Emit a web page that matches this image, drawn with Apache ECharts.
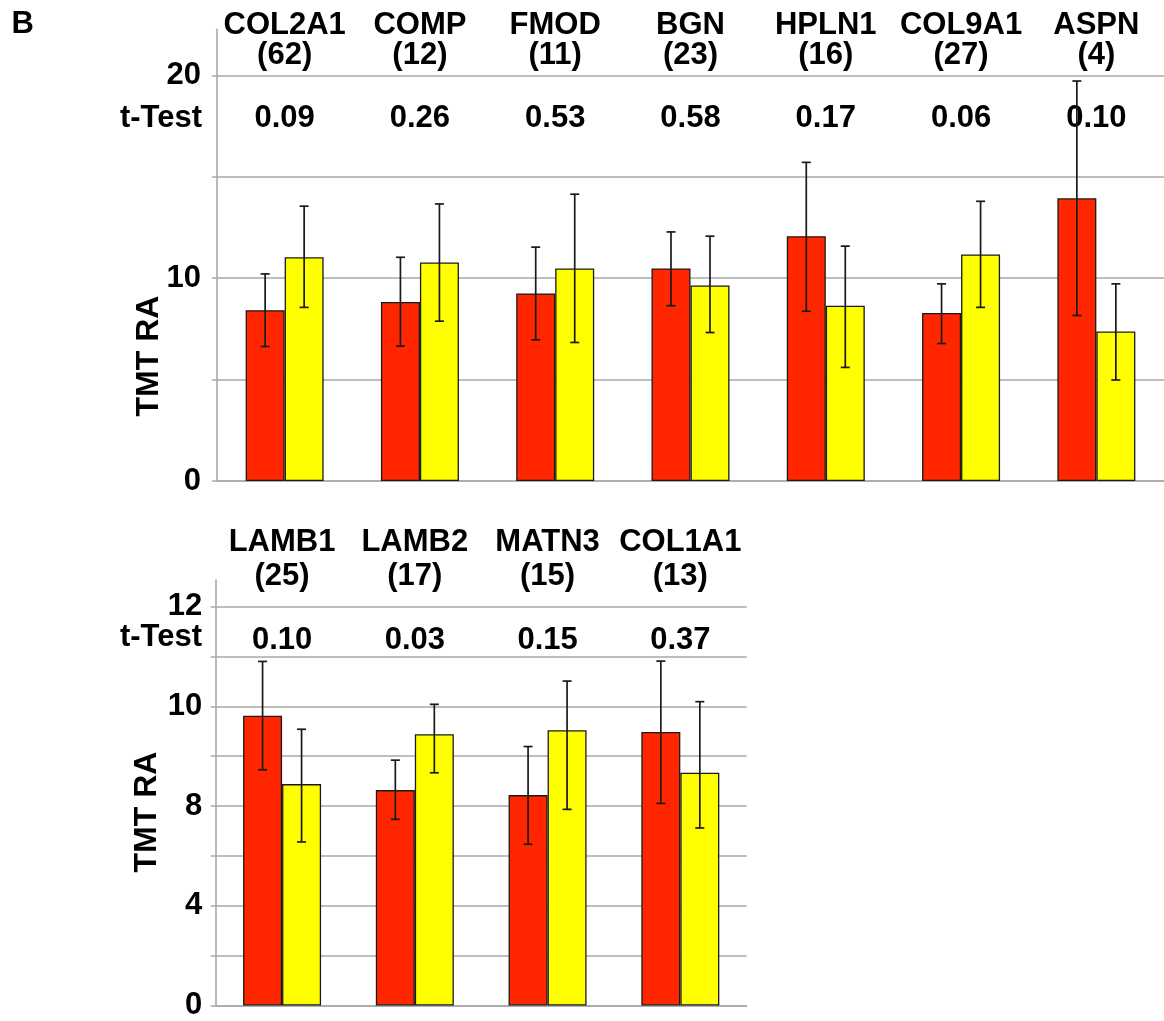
<!DOCTYPE html>
<html>
<head>
<meta charset="utf-8">
<style>
  html, body { margin: 0; padding: 0; background: #ffffff; }
  #chart { width: 1164px; height: 1021px; }
</style>
<script src="https://cdn.jsdelivr.net/npm/echarts@6/dist/echarts.min.js"></script>
</head>
<body>
<div id="chart"></div>
<script>
// ---------- Data ----------
// Top panel
const topGenes   = ['COL2A1', 'COMP', 'FMOD', 'BGN', 'HPLN1', 'COL9A1', 'ASPN'];
const topCounts  = [62, 12, 11, 23, 16, 27, 4];
const topTTest   = ['0.09', '0.26', '0.53', '0.58', '0.17', '0.06', '0.10'];
const topRed       = [8.42, 8.83, 9.25, 10.48, 12.07, 8.28, 13.94];
const topRedHigh   = [10.21, 11.03, 11.53, 12.28, 15.71, 9.72, 19.72];
const topRedLow    = [6.63, 6.65, 6.96, 8.64, 8.37, 6.78, 8.16];
const topYellow     = [11.03, 10.77, 10.48, 9.64, 8.64, 11.17, 7.37];
const topYellowHigh = [13.55, 13.66, 14.14, 12.07, 11.58, 13.79, 9.72];
const topYellowLow  = [8.56, 7.88, 6.83, 7.32, 5.60, 8.56, 4.98];
const topTickValues  = [0, 5, 10, 15, 20];
const topLabelValues = [0, 10, 20];
const topTickLabels  = ['0', '10', '20'];

// Bottom panel
const botGenes   = ['LAMB1', 'LAMB2', 'MATN3', 'COL1A1'];
const botCounts  = [25, 17, 15, 13];
const botTTest   = ['0.10', '0.03', '0.15', '0.37'];
const botRed       = [8.72, 6.48, 6.33, 8.23];
const botRedHigh   = [10.35, 7.38, 7.79, 10.36];
const botRedLow    = [7.09, 5.60, 4.85, 6.08];
const botYellow     = [6.66, 8.16, 8.28, 7.00];
const botYellowHigh = [8.31, 9.06, 9.76, 9.14];
const botYellowLow  = [4.92, 7.00, 5.90, 5.34];
const botTickValues  = [0, 1.5, 3, 4.5, 6, 7.5, 9, 10.5, 12];
const botLabelValues = [0, 3, 6, 9, 12];
const botTickLabels  = ['0', '4', '8', '10', '12'];

// ---------- Styling ----------
const FONT = '"Liberation Sans", Arial, Helvetica, sans-serif';
const GRID_GRAY = '#a9a9a9';
const RED = '#FF2600';
const YELLOW = '#FFFF00';
const BAR_W = 39;
const FS = 31;

function errData(high, low) {
  return high.map((h, i) => [i, h, low[i]]);
}
function errRender(side) {
  return function (params, api) {
    const idx = api.value(0);
    const top = api.coord([idx, api.value(1)]);
    const bot = api.coord([idx, api.value(2)]);
    const x = top[0] + side * BAR_W / 2;
    const cap = 4.5;
    const st = { stroke: '#1a1a1a', lineWidth: 1.7 };
    return {
      type: 'group',
      children: [
        { type: 'line', shape: { x1: x, y1: top[1], x2: x, y2: bot[1] }, style: st },
        { type: 'line', shape: { x1: x - cap, y1: top[1], x2: x + cap, y2: top[1] }, style: st },
        { type: 'line', shape: { x1: x - cap, y1: bot[1], x2: x + cap, y2: bot[1] }, style: st }
      ]
    };
  };
}
function labelFrom(values, labels) {
  return function (v) {
    for (let i = 0; i < values.length; i++) {
      if (Math.abs(values[i] - v) < 1e-6) return labels[i];
    }
    return '';
  };
}

const txt = { fontFamily: FONT, fontWeight: 'bold', color: '#000' };

const option = {
  animation: false,
  backgroundColor: '#ffffff',
  grid: [
    { left: 217, right: -4, top: 29.3, bottom: 540 },
    { left: 215.7, right: 417.3, top: 580, bottom: 14.3 }
  ],
  xAxis: [
    // top panel
    { type: 'category', gridIndex: 0, data: topGenes, position: 'bottom',
      axisLine: { show: true, lineStyle: { color: GRID_GRAY, width: 1.6 } },
      axisTick: { show: false }, axisLabel: { show: false }, splitLine: { show: false } },
    { type: 'category', gridIndex: 0, data: topGenes, position: 'top',
      axisLine: { show: false }, axisTick: { show: false }, splitLine: { show: false },
      axisLabel: Object.assign({}, txt, { interval: 0, fontSize: FS, lineHeight: 29.4, margin: -40.4,
        formatter: (v, i) => topGenes[i] + '\n(' + topCounts[i] + ')' }) },
    { type: 'category', gridIndex: 0, data: topGenes, position: 'top',
      axisLine: { show: false }, axisTick: { show: false }, splitLine: { show: false },
      axisLabel: Object.assign({}, txt, { interval: 0, inside: true, fontSize: FS, lineHeight: 29, margin: 74.5,
        formatter: (v, i) => topTTest[i] }) },
    // bottom panel
    { type: 'category', gridIndex: 1, data: botGenes, position: 'bottom',
      axisLine: { show: true, lineStyle: { color: GRID_GRAY, width: 1.6 } },
      axisTick: { show: false }, axisLabel: { show: false }, splitLine: { show: false } },
    { type: 'category', gridIndex: 1, data: botGenes, position: 'top',
      axisLine: { show: false }, axisTick: { show: false }, splitLine: { show: false },
      axisLabel: Object.assign({}, txt, { interval: 0, fontSize: FS, lineHeight: 34.7, margin: -14.3,
        formatter: (v, i) => botGenes[i] + '\n(' + botCounts[i] + ')' }) },
    { type: 'category', gridIndex: 1, data: botGenes, position: 'top',
      axisLine: { show: false }, axisTick: { show: false }, splitLine: { show: false },
      axisLabel: Object.assign({}, txt, { interval: 0, inside: true, fontSize: FS, lineHeight: 29, margin: 45.5,
        formatter: (v, i) => botTTest[i] }) }
  ],
  yAxis: [
    { type: 'value', gridIndex: 0, min: 0, max: 22.27, interval: 5,
      axisLine: { show: true, lineStyle: { color: GRID_GRAY, width: 1.6 } },
      axisTick: { show: true, length: 5, customValues: topTickValues, lineStyle: { color: GRID_GRAY, width: 1.5 } },
      splitLine: { show: true, lineStyle: { color: GRID_GRAY, width: 1.5 } },
      axisLabel: Object.assign({}, txt, { fontSize: FS, margin: 16, customValues: topLabelValues,
        formatter: labelFrom(topLabelValues, topTickLabels) }) },
    { type: 'value', gridIndex: 1, min: 0, max: 12.8, interval: 1.5,
      axisLine: { show: true, lineStyle: { color: GRID_GRAY, width: 1.6 } },
      axisTick: { show: true, length: 5, customValues: botTickValues, lineStyle: { color: GRID_GRAY, width: 1.5 } },
      splitLine: { show: true, lineStyle: { color: GRID_GRAY, width: 1.5 } },
      axisLabel: Object.assign({}, txt, { fontSize: FS, margin: 13.5, customValues: botLabelValues,
        formatter: labelFrom(botLabelValues, botTickLabels) }) }
  ],
  series: [
    { type: 'bar', xAxisIndex: 0, yAxisIndex: 0, data: topRed, barWidth: BAR_W, barGap: '0%',
      itemStyle: { color: RED, borderColor: '#1a1a1a', borderWidth: 1.3 } },
    { type: 'bar', xAxisIndex: 0, yAxisIndex: 0, data: topYellow, barWidth: BAR_W, barGap: '0%',
      itemStyle: { color: YELLOW, borderColor: '#1a1a1a', borderWidth: 1.3 } },
    { type: 'custom', xAxisIndex: 0, yAxisIndex: 0, z: 5, renderItem: errRender(-1),
      encode: { x: 0, y: [1, 2] }, data: errData(topRedHigh, topRedLow) },
    { type: 'custom', xAxisIndex: 0, yAxisIndex: 0, z: 5, renderItem: errRender(1),
      encode: { x: 0, y: [1, 2] }, data: errData(topYellowHigh, topYellowLow) },

    { type: 'bar', xAxisIndex: 3, yAxisIndex: 1, data: botRed, barWidth: BAR_W, barGap: '0%',
      itemStyle: { color: RED, borderColor: '#1a1a1a', borderWidth: 1.3 } },
    { type: 'bar', xAxisIndex: 3, yAxisIndex: 1, data: botYellow, barWidth: BAR_W, barGap: '0%',
      itemStyle: { color: YELLOW, borderColor: '#1a1a1a', borderWidth: 1.3 } },
    { type: 'custom', xAxisIndex: 3, yAxisIndex: 1, z: 5, renderItem: errRender(-1),
      encode: { x: 0, y: [1, 2] }, data: errData(botRedHigh, botRedLow) },
    { type: 'custom', xAxisIndex: 3, yAxisIndex: 1, z: 5, renderItem: errRender(1),
      encode: { x: 0, y: [1, 2] }, data: errData(botYellowHigh, botYellowLow) }
  ],
  graphic: [
    { type: 'text', x: 22.7, y: 24.5, style: { text: 'B', font: 'bold 31px ' + FONT, fill: '#000',
      align: 'center', verticalAlign: 'middle', textAlign: 'center', textVerticalAlign: 'middle' } },
    { type: 'text', x: 202, y: 118.3, style: { text: 't-Test', font: 'bold 31px ' + FONT, fill: '#000',
      align: 'right', verticalAlign: 'middle', textAlign: 'right', textVerticalAlign: 'middle' } },
    { type: 'text', x: 202, y: 637, style: { text: 't-Test', font: 'bold 31px ' + FONT, fill: '#000',
      align: 'right', verticalAlign: 'middle', textAlign: 'right', textVerticalAlign: 'middle' } },
    { type: 'text', x: 149, y: 356, rotation: Math.PI / 2, style: { text: 'TMT RA', font: 'bold 32px ' + FONT, fill: '#000',
      align: 'center', verticalAlign: 'middle', textAlign: 'center', textVerticalAlign: 'middle' } },
    { type: 'text', x: 147.5, y: 812, rotation: Math.PI / 2, style: { text: 'TMT RA', font: 'bold 32px ' + FONT, fill: '#000',
      align: 'center', verticalAlign: 'middle', textAlign: 'center', textVerticalAlign: 'middle' } }
  ]
};

const chart = echarts.init(document.getElementById('chart'), null, { renderer: 'canvas' });
chart.setOption(option);
</script>
</body>
</html>
